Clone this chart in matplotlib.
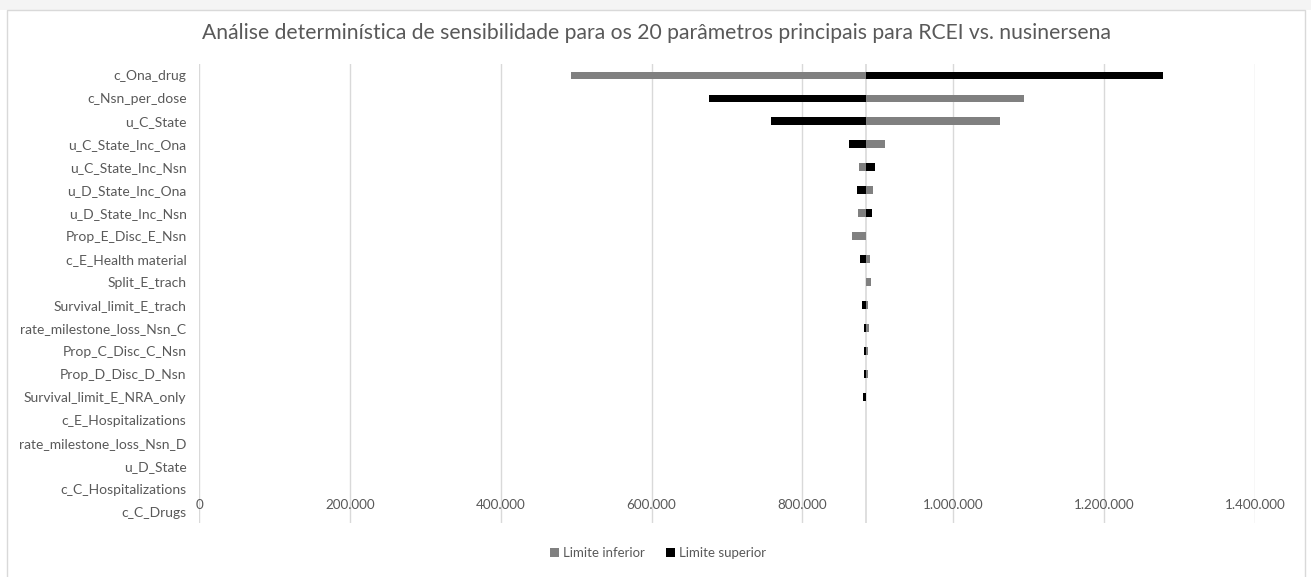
import matplotlib
matplotlib.use("Agg")
import matplotlib.pyplot as plt
from matplotlib.patches import Rectangle
from matplotlib.ticker import FuncFormatter

plt.rcParams['font.family'] = ['Lato', 'DejaVu Sans']

title = "Análise determinística de sensibilidade para os 20 parâmetros principais para RCEI vs. nusinersena"

parameters = [
    "c_Ona_drug", "c_Nsn_per_dose", "u_C_State", "u_C_State_Inc_Ona",
    "u_C_State_Inc_Nsn", "u_D_State_Inc_Ona", "u_D_State_Inc_Nsn",
    "Prop_E_Disc_E_Nsn", "c_E_Health material", "Split_E_trach",
    "Survival_limit_E_trach", "rate_milestone_loss_Nsn_C", "Prop_C_Disc_C_Nsn",
    "Prop_D_Disc_D_Nsn", "Survival_limit_E_NRA_only", "c_E_Hospitalizations",
    "rate_milestone_loss_Nsn_D", "u_D_State", "c_C_Hospitalizations", "c_C_Drugs",
]

base_value = 884000

limite_inferior = [
    492700, 1094000, 1062000, 909700, 875000, 893600, 873800, 866200,
    889100, 891400, 887000, 888300, 886500, 886500, 884000, 884000,
    884000, 884000, 884000, 884000,
]
limite_superior = [
    1278000, 676300, 758500, 862300, 896700, 872400, 892700, 884000,
    876800, 884000, 878500, 881000, 882000, 882000, 880500, 884000,
    884000, 884000, 884000, 884000,
]

x_ticks = [0, 200000, 400000, 600000, 800000, 1000000, 1200000, 1400000]

text_color = "#595959"
grid_color = "#d9d9d9"

fig = plt.figure(figsize=(13.11, 5.77), dpi=100)
fig.patch.set_facecolor("white")

# outer chart frame and top strip
fig.patches.append(Rectangle((0, 1 - 10 / 577), 1, 10 / 577, transform=fig.transFigure,
                             facecolor="#f4f4f4", edgecolor="none", zorder=-2))
fig.patches.append(Rectangle((7 / 1311, -0.01), (1305 - 7) / 1311, 1 - 10 / 577 + 0.01,
                             transform=fig.transFigure, facecolor="white",
                             edgecolor=grid_color, linewidth=1.0, zorder=-1))

ax = fig.add_axes([199 / 1311, 1 - 523 / 577, (1255 - 199) / 1311, (523 - 64) / 577])
ax.set_zorder(1)
ax.set_facecolor("none")

n = len(parameters)
ypos = list(range(n))
lower_w = [v - base_value for v in limite_inferior]
upper_w = [v - base_value for v in limite_superior]

ax.barh(ypos, lower_w, left=base_value, height=0.34, color="#808080",
        label="Limite inferior", zorder=3)
ax.barh(ypos, upper_w, left=base_value, height=0.34, color="#000000",
        label="Limite superior", zorder=3)

ax.axvline(base_value, color=grid_color, linewidth=1.2, zorder=2)

ax.set_xlim(0, 1400000)
ax.set_ylim(n - 0.5, -0.5)
ax.set_xticks(x_ticks)
ax.xaxis.set_major_formatter(FuncFormatter(lambda v, p: f"{int(v):,}".replace(",", ".")))
ax.grid(axis="x", color=grid_color, linewidth=1.0, zorder=0)
ax.set_yticks(ypos)
ax.set_yticklabels(parameters)
ax.tick_params(axis="y", length=0, pad=9, labelsize=10, labelcolor=text_color)
ax.tick_params(axis="x", length=0, pad=-17, labelsize=9.7, labelcolor=text_color)
for s in ax.spines.values():
    s.set_visible(False)

fig.text(656 / 1311, 1 - 33 / 577, title, ha="center", va="center",
         fontsize=15.2, color=text_color)

leg = fig.legend(loc="center", bbox_to_anchor=(658 / 1311, 1 - 553 / 577), ncol=2,
                 frameon=False, fontsize=9.5, handlelength=0.7, handleheight=0.7,
                 handletextpad=0.3, columnspacing=1.6)
for t in leg.get_texts():
    t.set_color(text_color)

fig.savefig("out.png", dpi=100)
